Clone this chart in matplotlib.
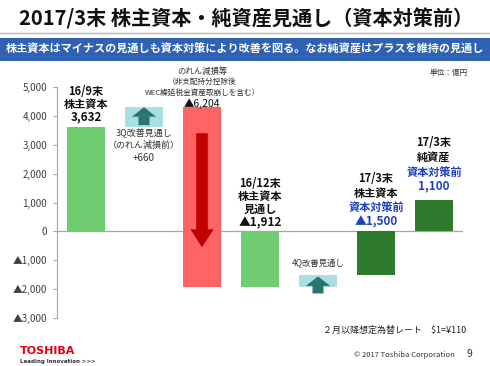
import matplotlib
matplotlib.use("Agg")
import matplotlib.pyplot as plt
from matplotlib.patches import Rectangle, FancyArrow

plt.rcParams['font.family'] = ['Noto Sans CJK JP', 'DejaVu Sans']

# ---- data ----
steps = ["16/9末 株主資本", "3Q改善見通し", "のれん減損等", "16/12末 株主資本見通し",
         "4Q改善見通し", "17/3末 株主資本", "17/3末 純資産"]
start_equity = 3632
q3_improve = 660
impairment = -6204
dec_equity = -1912
q4_improve = 412
mar_equity = -1500
net_assets = 1100
yticks = [5000, 4000, 3000, 2000, 1000, 0, -1000, -2000, -3000]
yticklabels = ["5,000", "4,000", "3,000", "2,000", "1,000", "0", "▲1,000", "▲2,000", "▲3,000"]

def fmt(v):
    return ("▲" if v < 0 else "") + f"{abs(v):,}"

LG = "#6FCC71"
DG = "#2E7B2E"
RED = "#FF6464"
DRED = "#C00000"
CYAN = "#A9DFE1"
TEAL = "#2A7572"
BLUE = "#1F40C0"

W, H = 490, 366
fig = plt.figure(figsize=(W / 100, H / 100), dpi=100)
fig.patch.set_facecolor("white")

def fx(px):
    return px / W

def fy(py):
    return 1 - py / H

ax = fig.add_axes([fx(57), fy(318), fx(463) - fx(57), fy(87) - fy(318)])
ax.set_xlim(-0.5, 6.5)
ax.set_ylim(-3000, 5000)
bw = 0.66

# bars
ax.bar(0, start_equity, width=bw, color=LG, zorder=2)
ax.bar(1, q3_improve, bottom=start_equity, width=bw, color=CYAN, zorder=2)
top_red = start_equity + q3_improve
ax.bar(2, impairment, bottom=top_red, width=bw, color=RED, zorder=2)
ax.bar(3, dec_equity, width=bw, color=LG, zorder=2)
ax.bar(4, q4_improve, bottom=dec_equity, width=bw, color=CYAN, zorder=2)
ax.bar(5, mar_equity, width=bw, color=DG, zorder=2)
ax.bar(6, net_assets, width=bw, color=DG, zorder=2)

# arrows
ax.add_patch(FancyArrow(1, 3680, 0, 620, width=0.19, head_width=0.42, head_length=330,
                        length_includes_head=True, color=TEAL, zorder=3, lw=0))
ax.add_patch(FancyArrow(2, 3400, 0, -3950, width=0.20, head_width=0.40, head_length=620,
                        length_includes_head=True, color=DRED, zorder=3, lw=0))
ax.add_patch(FancyArrow(4, -2150, 0, 590, width=0.19, head_width=0.42, head_length=330,
                        length_includes_head=True, color=TEAL, zorder=3, lw=0))

ax.axhline(0, color="#A6A6A6", lw=0.9, zorder=1)
ax.set_yticks(yticks)
ax.set_yticklabels(yticklabels, fontsize=7, color="#404040")
ax.tick_params(axis="y", length=3, color="#A6A6A6", width=0.8, pad=4)
ax.set_xticks([])
for s in ["top", "right", "bottom"]:
    ax.spines[s].set_visible(False)
ax.spines["left"].set_color("#A6A6A6")
ax.spines["left"].set_linewidth(0.8)

def pyd(py):
    # pixel y to data y
    return (231 - py) / 28.85 * 1000

def lines(x, items):
    for py, txt, size, weight, color in items:
        ax.text(x, pyd(py), txt, ha="center", va="center", fontsize=size,
                fontweight=weight, color=color, clip_on=False, zorder=4)

K = "#111111"
lines(0, [(91, "16/9末", 8, "bold", K), (104, "株主資本", 8, "bold", K),
          (117, fmt(start_equity), 8.5, "bold", K)])
lines(1, [(133, "3Q改善見通し", 6.5, "normal", "#333333"),
          (145, "（のれん減損前）", 6.5, "normal", "#333333"),
          (158, f"+{q3_improve:,}", 7, "normal", "#333333")])
lines(2.0, [(71, "のれん減損等", 6, "normal", "#333333"),
            (82, "（非支配持分控除後", 5.5, "normal", "#333333"),
            (92, "WEC繰延税金資産取崩しを含む）", 5.5, "normal", "#333333"),
            (103, fmt(impairment), 7.5, "normal", K)])
lines(3, [(183, "16/12末", 8, "bold", K), (196, "株主資本", 8, "bold", K),
          (209, "見通し", 8, "bold", K), (222, fmt(dec_equity), 8.5, "bold", K)])
lines(4, [(262, "4Q改善見通し", 6, "normal", "#333333")])
lines(5, [(178, "17/3末", 8, "bold", K), (193, "株主資本", 8, "bold", K),
          (207, "資本対策前", 8, "bold", BLUE), (221, fmt(mar_equity), 8.5, "bold", BLUE)])
lines(6, [(142, "17/3末", 8, "bold", K), (157, "純資産", 8, "bold", K),
          (172, "資本対策前", 8, "bold", BLUE), (186, fmt(net_assets), 8.5, "bold", BLUE)])

# header
fig.text(fx(246), fy(19), "2017/3末 株主資本・純資産見通し（資本対策前）", ha="center", va="center",
         fontsize=14.5, fontweight="bold", color="#111111")
fig.add_artist(plt.Line2D([0, 1], [fy(33), fy(33)], color="#BBBBBB", lw=1))
fig.add_artist(Rectangle((0, fy(61)), 1, fy(38) - fy(61), color="#2F62B2", lw=0))
fig.text(0.5, fy(49.5), "株主資本はマイナスの見通しも資本対策により改善を図る。なお純資産はプラスを維持の見通し",
         ha="center", va="center", fontsize=8, fontweight="bold", color="white")
fig.text(fx(449), fy(73), "単位：億円", ha="center", va="center", fontsize=5.5, color="#333333")

# footer
fig.text(fx(466), fy(330), "２月以降想定為替レート　$1=¥110", ha="right", va="center",
         fontsize=6.5, color="#222222")
fig.text(fx(20), fy(351), "TOSHIBA", ha="left", va="center", fontsize=8, fontweight="bold",
         color="#E60012", family="DejaVu Sans")
fig.text(fx(20), fy(361), "Leading Innovation >>>", ha="left", va="center", fontsize=4,
         fontweight="bold", color="#333333", family="DejaVu Sans")
fig.text(fx(404), fy(355), "© 2017 Toshiba Corporation", ha="center", va="center", fontsize=5.5,
         color="#333333")
fig.text(fx(469), fy(354), "9", ha="center", va="center", fontsize=7.5, color="#333333")

fig.savefig("out.png", dpi=100)
